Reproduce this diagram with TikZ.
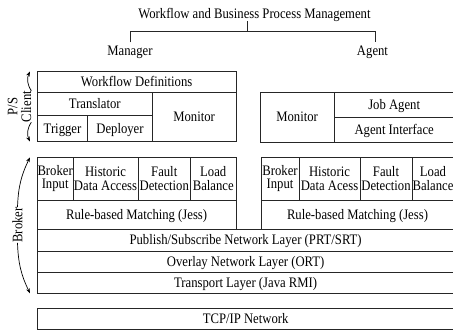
\documentclass[tikz,border=0pt]{standalone}
\usepackage{fontspec}
\setmainfont{Liberation Serif}[FakeStretch=0.875]
\usetikzlibrary{arrows.meta}
\newcommand{\lblfont}{\fontsize{14.5}{13.6}\selectfont}
\begin{document}
\begin{tikzpicture}[x=1pt,y=-1pt,
  cellbase/.style={draw=black!85, line width=0.8pt, inner sep=0pt, outer sep=0pt, font=\lblfont, anchor=center},
  cell/.style={cellbase, text height=9.6pt, text depth=0.6pt},
  cell2/.style={cellbase, align=center},
  lbl/.style={inner sep=0pt, align=center, font=\lblfont},
  arr/.style={-{Stealth[length=5pt,width=3.6pt]}, line width=0.7pt},
  tree/.style={line width=0.8pt, draw=black!85}]
\useasboundingbox (0,0) rectangle (453,331);

% top tree
\node[lbl, anchor=base] (title) at (254.5,18.6) {Workflow and Business Process Management};
\node[lbl, anchor=base] (mgr) at (130,55.2) {Manager};
\node[lbl, anchor=base] (agt) at (372.5,55.2) {Agent};
\coordinate (tt) at (247.7,21.5);
\coordinate (tj) at (247.7,31.7);
\coordinate (mj) at (130.7,42.3);
\coordinate (aj) at (375.7,42.3);
\draw[tree] (tt) -- (tj);
\draw[tree] (mj) |- (tj) -| (aj);

% manager
\node[cell, minimum width=198.7pt, minimum height=21.3pt] (wfdef) at (136.65,81.65) {Workflow Definitions};
\node[cell, minimum width=115pt, minimum height=23.4pt] (transl) at (94.8,104) {Translator};
\node[cell, minimum width=50.4pt, minimum height=26pt] (trig) at (62.5,128.7) {Trigger};
\node[cell, minimum width=64.6pt, minimum height=26pt] (depl) at (120,128.7) {Deployer};
\node[cell, minimum width=83.7pt, minimum height=49.4pt] (mon) at (194.15,117) {Monitor};

% agent
\node[cell, minimum width=74.3pt, minimum height=49.7pt] (amon) at (297.15,117.15) {Monitor};
\node[cell, minimum width=119.7pt, minimum height=25pt] (job) at (394.15,104.8) {Job Agent};
\node[cell, minimum width=119.7pt, minimum height=24.7pt] (aif) at (394.15,129.65) {Agent Interface};

% broker left
\node[cell2, minimum width=35.7pt, minimum height=42.7pt] (bin) at (55.15,178.65) {Broker\\Input};
\node[cell2, minimum width=65pt, minimum height=42.7pt] (hist) at (105.5,178.65) {Historic\\Data Access};
\node[cell2, minimum width=52.5pt, minimum height=42.7pt] (fault) at (164.25,178.65) {Fault\\Detection};
\node[cell2, minimum width=45.5pt, minimum height=42.7pt] (load) at (213.25,178.65) {Load\\Balance};
\node[cell, minimum width=198.7pt, minimum height=29.3pt] (rule) at (136.65,214.65) {Rule-based Matching (Jess)};

% broker right
\node[cell2, minimum width=38pt, minimum height=42.7pt] (bin2) at (280,178.65) {Broker\\Input};
\node[cell2, minimum width=61pt, minimum height=42.7pt] (hist2) at (329.5,178.65) {Historic\\Data Acess};
\node[cell2, minimum width=52pt, minimum height=42.7pt] (fault2) at (386,178.65) {Fault\\Detection};
\node[cell2, minimum width=42pt, minimum height=42.7pt] (load2) at (433,178.65) {Load\\Balance};
\node[cell, minimum width=193pt, minimum height=29.3pt] (rule2) at (357.5,214.65) {Rule-based Matching (Jess)};

% layers
\node[cell, minimum width=416.7pt, minimum height=21.7pt] (pubsub) at (245.65,240.15) {Publish/Subscribe Network Layer (PRT/SRT)};
\node[cell, minimum width=416.7pt, minimum height=21.3pt] (overlay) at (245.65,261.65) {Overlay Network Layer (ORT)};
\node[cell, minimum width=416.7pt, minimum height=21pt] (transp) at (245.65,282.8) {Transport Layer (Java RMI)};
\node[cell, minimum width=416.7pt, minimum height=21pt] (tcp) at (245.65,318.8) {TCP/IP Network};

% side labels
\node[lbl, rotate=90] (ps) at (19.5,106.5) {P/S\\Client};
\coordinate (pstop) at (30,71.5);
\coordinate (psbot) at (30,141.5);
\draw[arr] (ps.south east) to[bend left=30] (pstop);
\draw[arr] (ps.south west) to[bend right=30] (psbot);

\node[lbl, rotate=90] (brk) at (17.5,225) {Broker};
\coordinate (btop) at (30,157.3);
\coordinate (bbot) at (30,293.3);
\draw[arr] (brk.east) to[bend left=12] (btop);
\draw[arr] (brk.west) to[bend right=12] (bbot);
\end{tikzpicture}
\end{document}
